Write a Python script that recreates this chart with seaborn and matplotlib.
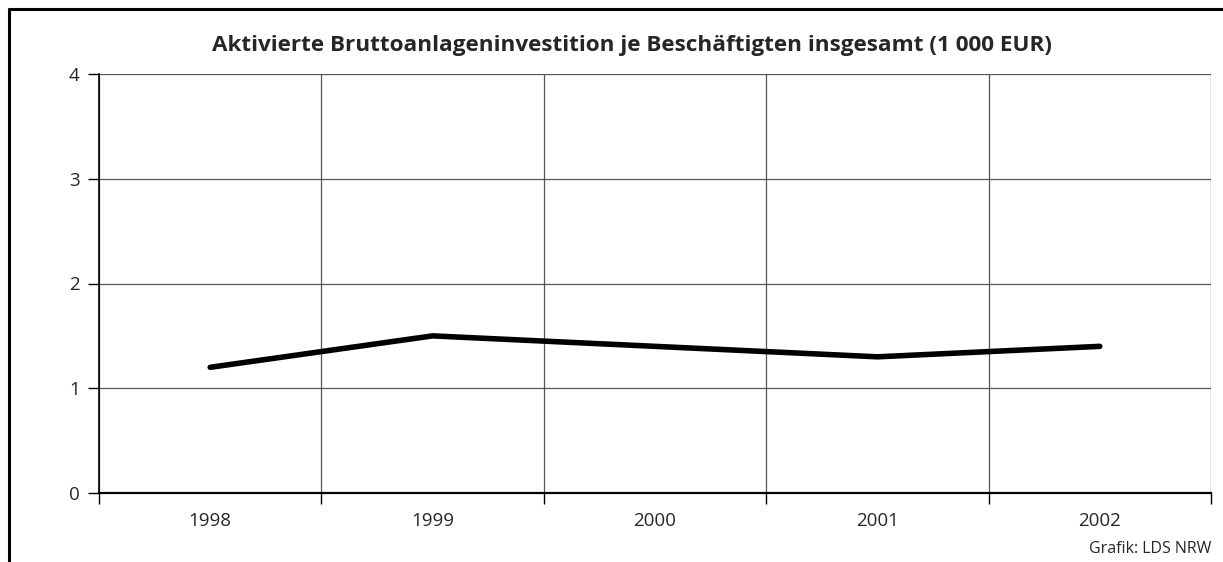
"""
Aktivierte Bruttoanlageninvestition je Beschäftigten insgesamt
"""
import numpy as np
import pandas as pd
import matplotlib
matplotlib.use("Agg")
import matplotlib.pyplot as plt
from matplotlib.lines import Line2D
import seaborn as sns

YEARS = ["1998", "1999", "2000", "2001", "2002"]
VALUES = [1.2, 1.5, 1.4, 1.3, 1.4]
Y_TICKS = [0, 1, 2, 3, 4]

sns.set_style("white")
plt.rcParams["font.family"] = ["Open Sans", "DejaVu Sans"]

df = pd.DataFrame({"year": YEARS, "value": VALUES})

fig = plt.figure(figsize=(12.23, 5.62), dpi=100)
ax = fig.add_axes([99 / 1223, 1 - 493 / 562, (1211 - 99) / 1223, (493 - 74) / 562])

sns.lineplot(data=df, x="year", y="value", ax=ax, color="black",
             linewidth=4, solid_capstyle="round", sort=False)

ax.set_xlim(-0.5, len(YEARS) - 0.5)
ax.set_ylim(0, 4)
ax.set_yticks(Y_TICKS)
ax.set_xticks(range(len(YEARS)))
ax.set_xticklabels(YEARS)
ax.set_xticks(np.arange(-0.5, len(YEARS), 1.0), minor=True)
ax.set_xlabel("")
ax.set_ylabel("")

# grid: horizontal at values, vertical at category boundaries
ax.grid(axis="y", which="major", color="#555555", linewidth=0.9)
ax.grid(axis="x", which="minor", color="#555555", linewidth=0.9)
ax.grid(axis="x", which="major", visible=False)

for side in ["top", "right"]:
    ax.spines[side].set_visible(False)
ax.spines["left"].set_color("black")
ax.spines["bottom"].set_color("black")
ax.spines["left"].set_linewidth(1.2)
ax.spines["bottom"].set_linewidth(1.6)

ax.tick_params(axis="y", which="major", length=8, width=1, direction="out",
               left=True, labelsize=13.5, pad=6, color="black")
ax.tick_params(axis="x", which="major", length=0, labelsize=13.5, pad=14)
ax.tick_params(axis="x", which="minor", length=8, width=1, direction="out",
               bottom=True, color="black")

fig.text(632 / 1223, 1 - 45 / 562, "Aktivierte Bruttoanlageninvestition je Beschäftigten insgesamt (1 000 EUR)",
         ha="center", va="center", fontsize=16.2, fontweight="bold")
fig.text(1211 / 1223, 1 - 549 / 562, "Grafik: LDS NRW", ha="right", va="center", fontsize=11.5)

# outer frame: left and top
fig.add_artist(Line2D([9 / 1223, 9 / 1223], [0, 1 - 9 / 562], transform=fig.transFigure,
                      color="black", linewidth=2.2))
fig.add_artist(Line2D([9 / 1223, 1], [1 - 9 / 562, 1 - 9 / 562], transform=fig.transFigure,
                      color="black", linewidth=2.2))

fig.savefig("out.png", dpi=100)
